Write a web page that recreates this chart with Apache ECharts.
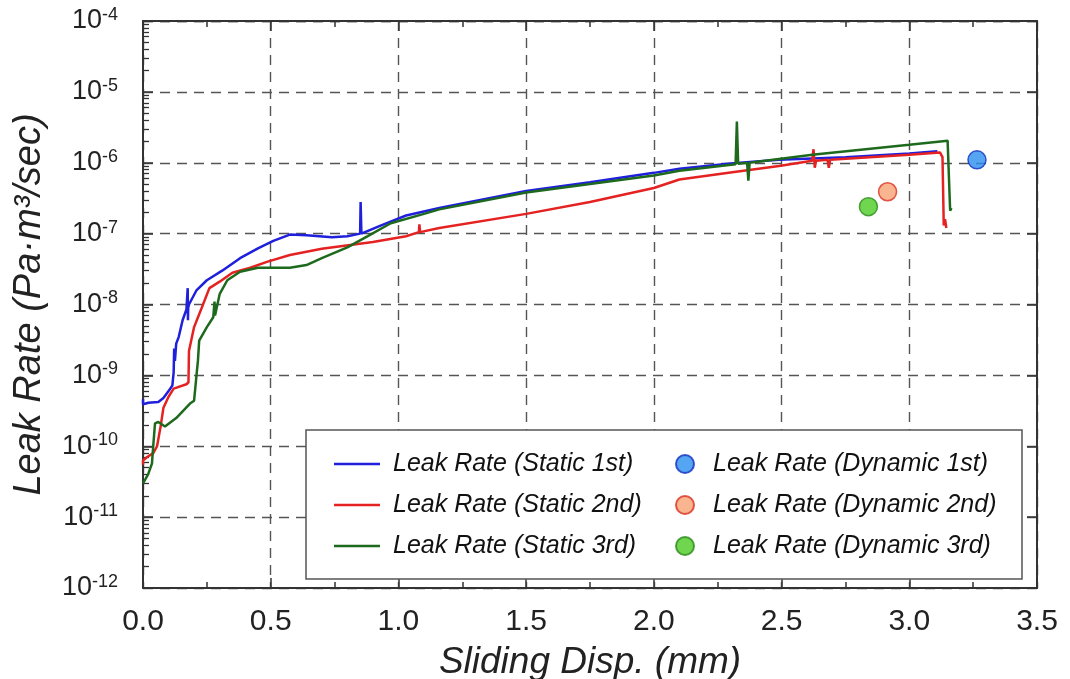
<!DOCTYPE html>
<html>
<head>
<meta charset="utf-8">
<script src="https://cdn.jsdelivr.net/npm/echarts@6/dist/echarts.min.js"></script>
<style>
html, body { margin: 0; padding: 0; background: #fff; }
#chart { width: 1070px; height: 679px; }
</style>
</head>
<body>
<div id="chart"></div>
<script>
// static runs (sliding displacement mm / leak rate Pa.m3/sec)
const s1x = [0, 0, 0.02, 0.06, 0.08, 0.1, 0.115, 0.12, 0.122, 0.125, 0.13, 0.14, 0.155, 0.17, 0.175, 0.176, 0.177, 0.18, 0.21, 0.25, 0.31, 0.38, 0.45, 0.51, 0.575, 0.64, 0.74, 0.8, 0.85, 0.852, 0.855, 0.93, 1.03, 1.16, 1.3, 1.5, 1.75, 2.0, 2.1, 2.3, 2.49, 2.75, 3.0, 3.11];
const s1y = [4.6e-10, 3.9e-10, 4.1e-10, 4.2e-10, 4.8e-10, 6.0e-10, 7.2e-10, 1.1e-9, 2.4e-9, 1.6e-9, 2.8e-9, 3.5e-9, 6.0e-9, 8.5e-9, 1.7e-8, 6.0e-9, 9.0e-9, 1.0e-8, 1.6e-8, 2.2e-8, 3.0e-8, 4.5e-8, 6.2e-8, 7.9e-8, 9.7e-8, 9.5e-8, 8.9e-8, 9.2e-8, 1.0e-7, 2.8e-7, 1.0e-7, 1.3e-7, 1.8e-7, 2.3e-7, 2.9e-7, 4.0e-7, 5.3e-7, 7.2e-7, 8.2e-7, 9.8e-7, 1.1e-6, 1.2e-6, 1.35e-6, 1.45e-6];

const s2x = [0, 0, 0.015, 0.04, 0.055, 0.07, 0.08, 0.1, 0.12, 0.17, 0.178, 0.18, 0.2, 0.23, 0.26, 0.3, 0.35, 0.42, 0.485, 0.575, 0.7, 0.9, 1.03, 1.08, 1.082, 1.085, 1.16, 1.5, 1.75, 2.0, 2.1, 2.3, 2.49, 2.62, 2.625, 2.63, 2.635, 2.68, 2.685, 2.69, 3.0, 3.12, 3.13, 3.135, 3.14, 3.145];
const s2y = [5.5e-11, 6.3e-11, 7.0e-11, 8.0e-11, 1.0e-10, 2.0e-10, 3.5e-10, 5.0e-10, 6.5e-10, 7.5e-10, 8.0e-10, 2.2e-9, 4.8e-9, 9.0e-9, 1.7e-8, 2.1e-8, 2.8e-8, 3.3e-8, 4.0e-8, 5.0e-8, 6.1e-8, 7.6e-8, 9.2e-8, 1.05e-7, 1.35e-7, 1.05e-7, 1.2e-7, 1.9e-7, 2.8e-7, 4.4e-7, 5.8e-7, 7.3e-7, 9.0e-7, 1.07e-6, 1.55e-6, 8.5e-7, 1.07e-6, 1.1e-6, 8.5e-7, 1.1e-6, 1.3e-6, 1.4e-6, 1.2e-6, 1.3e-7, 1.6e-7, 1.2e-7];

const s3x = [0, 0.02, 0.035, 0.04, 0.047, 0.06, 0.086, 0.13, 0.184, 0.2, 0.21, 0.215, 0.22, 0.25, 0.275, 0.28, 0.282, 0.3, 0.33, 0.38, 0.45, 0.575, 0.64, 0.7, 0.8, 0.88, 0.97, 1.1, 1.16, 1.5, 1.75, 2.0, 2.1, 2.32, 2.325, 2.33, 2.365, 2.37, 2.375, 2.62, 3.0, 3.15, 3.16, 3.165];
const s3y = [3.0e-11, 4.0e-11, 5.7e-11, 1.0e-10, 2.1e-10, 2.2e-10, 1.9e-10, 2.5e-10, 4.0e-10, 4.4e-10, 1.05e-9, 1.6e-9, 3.1e-9, 4.8e-9, 6.6e-9, 1.1e-8, 7.0e-9, 1.4e-8, 2.2e-8, 2.9e-8, 3.3e-8, 3.3e-8, 3.6e-8, 4.5e-8, 6.4e-8, 9.2e-8, 1.4e-7, 1.9e-7, 2.2e-7, 3.8e-7, 5.0e-7, 6.6e-7, 7.7e-7, 9.5e-7, 3.8e-6, 9.7e-7, 1.0e-6, 5.6e-7, 1.0e-6, 1.3e-6, 1.8e-6, 2.05e-6, 2.1e-7, 2.3e-7];

// dynamic runs, one point each
const d1 = [3.265, 1.1e-6];
const d2 = [2.915, 3.9e-7];
const d3 = [2.84, 2.4e-7];

const staticNames = ['Leak Rate (Static 1st)', 'Leak Rate (Static 2nd)', 'Leak Rate (Static 3rd)'];
const dynamicNames = ['Leak Rate (Dynamic 1st)', 'Leak Rate (Dynamic 2nd)', 'Leak Rate (Dynamic 3rd)'];

const xMin = 0, xMax = 3.5, xStep = 0.5;
const yMin = 1e-12, yMax = 1e-4;

const FONT = 'Liberation Sans, Arial, sans-serif';

const zip = (xs, ys) => xs.map((x, i) => [x, ys[i]]);

// log minor ticks 2..9 in each decade
const minorLog = [];
for (let e = -12; e < -4; e++) {
    for (let k = 2; k <= 9; k++) minorLog.push(k * Math.pow(10, e));
}

const chart = echarts.init(document.getElementById('chart'));

const dashed = { show: true, lineStyle: { color: '#555', width: 1.4, type: [10, 7] } };
const axLine = { show: true, onZero: false, lineStyle: { color: '#333', width: 2 } };
const legendText = { fontSize: 25, lineHeight: 30, fontStyle: 'italic', color: '#111', fontFamily: FONT };

chart.setOption({
    animation: false,
    backgroundColor: '#fff',
    grid: { left: 143, right: 33, top: 21, bottom: 91, outerBoundsMode: 'none', containLabel: false },
    xAxis: [{
        type: 'value', min: xMin, max: xMax, interval: xStep,
        position: 'bottom',
        axisLine: axLine,
        axisTick: { inside: true, length: 10, lineStyle: { color: '#333', width: 1.5 } },
        minorTick: { show: true, splitNumber: 2, length: 6, lineStyle: { color: '#333', width: 1.5 } },
        splitLine: dashed,
        axisLabel: { margin: 19, fontSize: 30, color: '#222', fontFamily: FONT, formatter: v => v.toFixed(1) },
        name: 'Sliding Disp. (mm)', nameLocation: 'middle', nameGap: 56,
        nameTextStyle: { fontSize: 37, fontStyle: 'italic', color: '#222', fontFamily: FONT, verticalAlign: 'top' }
    }, {
        type: 'value', min: xMin, max: xMax, interval: xStep,
        position: 'top',
        axisLine: axLine,
        axisTick: { inside: true, length: 10, lineStyle: { color: '#333', width: 1.5 } },
        minorTick: { show: true, splitNumber: 2, length: 6, lineStyle: { color: '#333', width: 1.5 } },
        splitLine: { show: false },
        axisLabel: { show: false }
    }],
    yAxis: [{
        type: 'log', logBase: 10, min: yMin, max: yMax,
        position: 'left',
        axisLine: axLine,
        axisTick: { inside: true, length: 10, lineStyle: { color: '#333', width: 1.5 } },
        splitLine: dashed,
        axisLabel: {
            margin: 25, color: '#222', fontFamily: FONT,
            formatter: v => '{b|10}{s|' + Math.round(Math.log10(v)) + '}',
            rich: {
                b: { fontSize: 27, fontFamily: FONT, color: '#222', lineHeight: 30 },
                s: { fontSize: 18, fontFamily: FONT, color: '#222', verticalAlign: 'top', lineHeight: 30, padding: [0, 0, 10, 0] }
            }
        },
        name: 'Leak Rate (Pa\u00b7m\u00b3/sec)', nameLocation: 'middle', nameGap: 95,
        nameTextStyle: { fontSize: 38, fontStyle: 'italic', color: '#222', fontFamily: FONT }
    }, {
        type: 'log', logBase: 10, min: yMin, max: yMax,
        position: 'right',
        axisLine: axLine,
        axisTick: { inside: true, length: 10, lineStyle: { color: '#333', width: 1.5 } },
        splitLine: { show: false },
        axisLabel: { show: false }
    }, {
        type: 'log', logBase: 10, min: yMin, max: yMax,
        position: 'left',
        axisLine: { show: false },
        axisTick: { inside: true, length: 6, customValues: minorLog, lineStyle: { color: '#333', width: 1.3 } },
        splitLine: { show: false },
        axisLabel: { show: false }
    }],
    legend: [{
        data: staticNames,
        orient: 'vertical', left: 329, top: 444,
        icon: 'rect', itemWidth: 46, itemHeight: 2.5, itemGap: 11,
        textStyle: Object.assign({ padding: [0, 0, 0, 8] }, legendText)
    }, {
        data: dynamicNames,
        orient: 'vertical', left: 670, top: 444,
        icon: 'circle', itemWidth: 18, itemHeight: 18, itemGap: 11,
        textStyle: Object.assign({ padding: [0, 0, 0, 14] }, legendText)
    }],
    graphic: [{
        type: 'rect', z: 3,
        shape: { x: 306, y: 430, width: 716, height: 149 },
        style: { fill: '#fff', stroke: '#555', lineWidth: 1.5 }
    }],
    series: [
        { name: staticNames[0], type: 'line', data: zip(s1x, s1y), showSymbol: false, color: '#1f1fdc', lineStyle: { width: 2.5 }, z: 4 },
        { name: staticNames[1], type: 'line', data: zip(s2x, s2y), showSymbol: false, color: '#e52222', lineStyle: { width: 2.5 }, z: 4 },
        { name: staticNames[2], type: 'line', data: zip(s3x, s3y), showSymbol: false, color: '#1d6a1d', lineStyle: { width: 2.5 }, z: 4 },
        { name: dynamicNames[0], type: 'scatter', data: [d1], symbolSize: 18, itemStyle: { color: '#2a8ef0', borderColor: '#1030c0', borderWidth: 1.5 }, z: 5 },
        { name: dynamicNames[1], type: 'scatter', data: [d2], symbolSize: 18, itemStyle: { color: '#f6a273', borderColor: '#d83020', borderWidth: 1.5 }, z: 5 },
        { name: dynamicNames[2], type: 'scatter', data: [d3], symbolSize: 18, itemStyle: { color: '#4ccc24', borderColor: '#2a8a18', borderWidth: 1.5 }, z: 5 }
    ]
});
</script>
</body>
</html>
